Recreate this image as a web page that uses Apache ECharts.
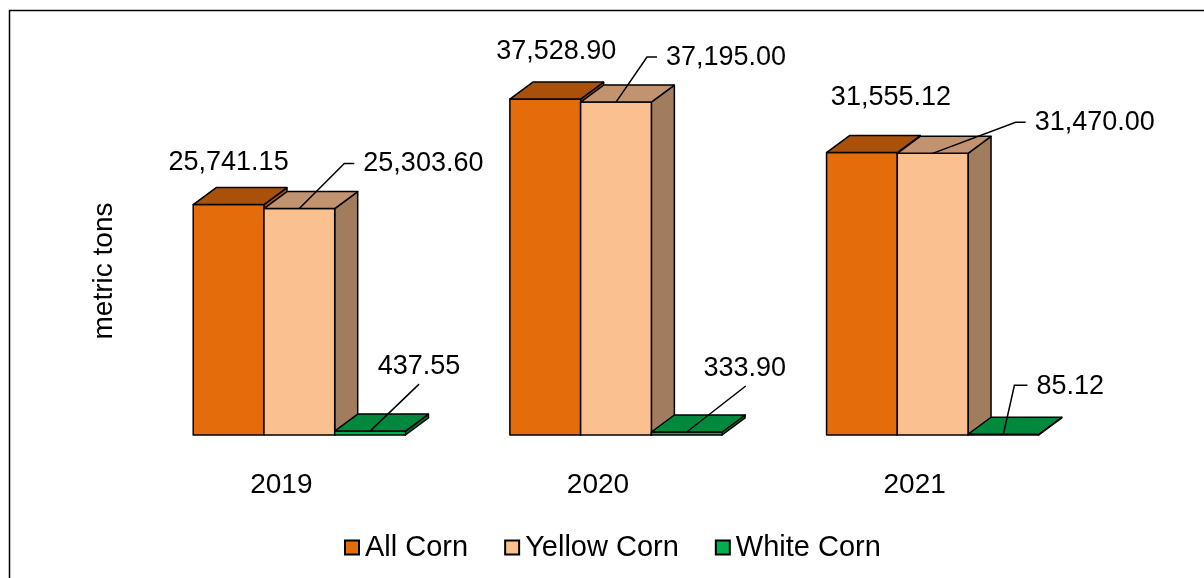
<!DOCTYPE html>
<html>
<head>
<meta charset="utf-8">
<script src="https://cdn.jsdelivr.net/npm/echarts@6/dist/echarts.min.js"></script>
<style>
html,body{margin:0;padding:0;background:#fff;}
#chart{width:1204px;height:578px;}
</style>
</head>
<body>
<div id="chart"></div>
<script>
// ---- data ----
const categories = ['2019', '2020', '2021'];
const seriesNames = ['All Corn', 'Yellow Corn', 'White Corn'];
const allCorn = [25741.15, 37528.90, 31555.12];
const yellowCorn = [25303.60, 37195.00, 31470.00];
const whiteCorn = [437.55, 333.90, 85.12];
const yAxisTitle = 'metric tons';

// ---- styles (not data) ----
const faceColors = [
  {front: '#E46C0A', top: '#A9500A', side: '#A9500A'},
  {front: '#FAC090', top: '#C1936F', side: '#A27D5D'},
  {front: '#00B050', top: '#00893D', side: '#006B30'}
];
const depth = [23, -17];
const barFrac = 0.2234;
const FONT = 'Liberation Sans, Arial, sans-serif';
// label placement: offsets (px) from the centre of each bar's front-top edge
const labelLayout = [
  [ {line: [], text: [0, -42], align: 'center'},
    {line: [], text: [11, -48], align: 'center'},
    {line: [], text: [29, -55], align: 'center'} ],
  [ {line: [[45, -45], [55, -45]], text: [64, -45], align: 'left'},
    {line: [[31, -45], [41, -45]], text: [50, -45], align: 'left'},
    {line: [[83, -31], [93, -31]], text: [102, -31], align: 'left'} ],
  [ {line: [[49, -47]], text: [49, -65], align: 'center'},
    {line: [[59, -46]], text: [58, -63], align: 'center'},
    {line: [[11, -49], [24, -49]], text: [33, -48], align: 'left'} ]
];

function fmt(v) {
  return v.toLocaleString('en-US', {minimumFractionDigits: 2, maximumFractionDigits: 2});
}

function renderItem(params, api) {
  const s = params.seriesIndex;
  const ci = api.value(0);
  const v = api.value(1);
  const c = api.coord([ci, v]);
  const b = api.coord([ci, 0]);
  const band = api.size([1, 0])[0];
  const w = band * barFrac;
  const x0 = c[0] + (s - 1.5) * w;
  const x1 = x0 + w;
  const yt = c[1];
  const yb = b[1];
  const dx = depth[0], dy = depth[1];
  const col = faceColors[s];
  const stroke = {stroke: '#000', lineWidth: 1.5, lineJoin: 'round'};
  const children = [
    {type: 'polygon', shape: {points: [[x1, yt], [x1 + dx, yt + dy], [x1 + dx, yb + dy], [x1, yb]]},
     style: Object.assign({fill: col.side}, stroke)},
    {type: 'polygon', shape: {points: [[x0, yt], [x1, yt], [x1, yb], [x0, yb]]},
     style: Object.assign({fill: col.front}, stroke)},
    {type: 'polygon', shape: {points: [[x0, yt], [x1, yt], [x1 + dx, yt + dy], [x0 + dx, yt + dy]]},
     style: Object.assign({fill: col.top}, stroke)}
  ];
  const lay = labelLayout[s][params.dataIndex];
  const sx = (x0 + x1) / 2, sy = yt;
  if (lay.line.length) {
    const pts = [[sx, sy]].concat(lay.line.map(p => [sx + p[0], sy + p[1]]));
    children.push({type: 'polyline', z2: 50, shape: {points: pts},
      style: {stroke: '#000', lineWidth: 1.5, fill: null}});
  }
  children.push({type: 'text', z2: 60,
    style: {x: sx + lay.text[0], y: sy + lay.text[1], text: fmt(v),
      fill: '#000', font: '27px ' + FONT, align: lay.align, verticalAlign: 'middle'}});
  return {type: 'group', children: children};
}

const seriesValues = [allCorn, yellowCorn, whiteCorn];
const series = seriesValues.map((arr, s) => ({
  name: seriesNames[s],
  type: 'custom',
  renderItem: renderItem,
  encode: {x: 0, y: 1},
  itemStyle: {color: faceColors[s].front, borderColor: '#000', borderWidth: 1},
  data: arr.map((v, i) => [i, v]),
  z: 2 + s
}));

const chart = echarts.init(document.getElementById('chart'));
chart.setOption({
  animation: false,
  backgroundColor: '#fff',
  grid: {left: 141, right: 113, top: 77, bottom: 143},
  xAxis: {
    type: 'category', data: categories,
    axisLine: {show: false}, axisTick: {show: false}, splitLine: {show: false},
    axisLabel: {fontSize: 28, color: '#000', fontFamily: FONT, margin: 36, padding: [0, 36, 0, 0]}
  },
  yAxis: {type: 'value', min: 0, max: 40000, show: false},
  legend: {
    left: 339, top: 528,
    itemWidth: 14, itemHeight: 14, itemGap: 36,
    icon: 'rect',
    textStyle: {fontSize: 29, color: '#000', fontFamily: FONT, padding: [0, 0, 0, 1]},
    data: seriesNames
  },
  graphic: [
    {type: 'rect', left: 7, top: 8, silent: true,
     shape: {x: 0, y: 0, width: 1400, height: 800},
     style: {fill: null, stroke: '#000', lineWidth: 1.5}},
    {type: 'text', x: 104, y: 271, rotation: Math.PI / 2,
     style: {text: yAxisTitle, font: '28px ' + FONT, fill: '#000', align: 'center', verticalAlign: 'middle'}}
  ],
  series: series
});
</script>
</body>
</html>
